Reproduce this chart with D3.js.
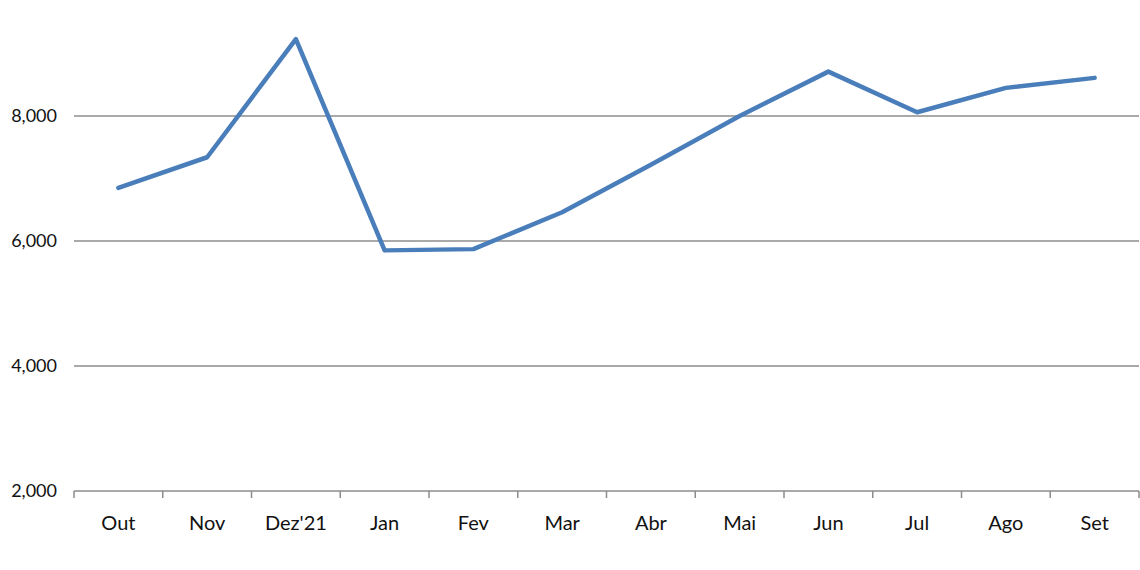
<!DOCTYPE html>
<html>
<head>
<meta charset="utf-8">
<script src="https://cdn.jsdelivr.net/npm/d3@7"></script>
<style>
	body { margin: 0; background: #fff; }
	text { font-family: Lato, "Open Sans", sans-serif; fill: #111; }
</style>
</head>
<body>
<script>
var months = ['Out', 'Nov', "Dez'21", 'Jan', 'Fev', 'Mar', 'Abr', 'Mai', 'Jun', 'Jul', 'Ago', 'Set'];
var values = [6850, 7340, 9230, 5850, 5870, 6460, 7220, 8000, 8710, 8060, 8450, 8610];
var yTicks = [2000, 4000, 6000, 8000];

var width = 1140, height = 570;
var left = 74, right = 1139, bottom = 491;

var svg = d3.select('body').append('svg')
	.attr('width', width)
	.attr('height', height);

var x = d3.scaleBand()
	.domain(months)
	.range([left, right]);

var y = d3.scaleLinear()
	.domain([2000, 10000])
	.range([bottom, -9]);

// gridlines
svg.append('g').selectAll('line')
	.data(yTicks.slice(1))
	.enter().append('line')
	.attr('x1', left).attr('x2', right)
	.attr('y1', function(d) { return y(d); })
	.attr('y2', function(d) { return y(d); })
	.attr('stroke', '#8c8c8c')
	.attr('stroke-width', 1.5);

// y labels
var yAxis = d3.axisLeft(y).tickValues(yTicks).tickFormat(d3.format(',')).tickSize(0).tickPadding(17);
svg.append('g')
	.attr('transform', 'translate(' + left + ',0)')
	.call(yAxis)
	.call(function(g) { g.select('.domain').remove(); })
	.selectAll('text')
	.style('font-size', '18px');

// x axis
var xAxis = d3.axisBottom(x).tickSize(0).tickPadding(25);
var gx = svg.append('g')
	.attr('transform', 'translate(0,' + bottom + ')')
	.call(xAxis);
gx.select('.domain').remove();
gx.selectAll('text').style('font-size', '20px');

gx.append('line')
	.attr('x1', left).attr('x2', right)
	.attr('stroke', '#8c8c8c').attr('stroke-width', 1.5);
var edges = months.map(function(m) { return x(m); }).concat([right]);
gx.selectAll('.edge').data(edges).enter().append('line')
	.attr('class', 'edge')
	.attr('x1', function(d) { return d; }).attr('x2', function(d) { return d; })
	.attr('y1', 0).attr('y2', 7)
	.attr('stroke', '#8c8c8c').attr('stroke-width', 1.5);

// series line
var line = d3.line()
	.x(function(d, i) { return x(months[i]) + x.bandwidth() / 2; })
	.y(function(d) { return y(d); });

svg.append('path')
	.datum(values)
	.attr('fill', 'none')
	.attr('stroke', '#4a7ebb')
	.attr('stroke-width', 4.5)
	.attr('stroke-linejoin', 'round')
	.attr('stroke-linecap', 'round')
	.attr('d', line);
</script>
</body>
</html>
